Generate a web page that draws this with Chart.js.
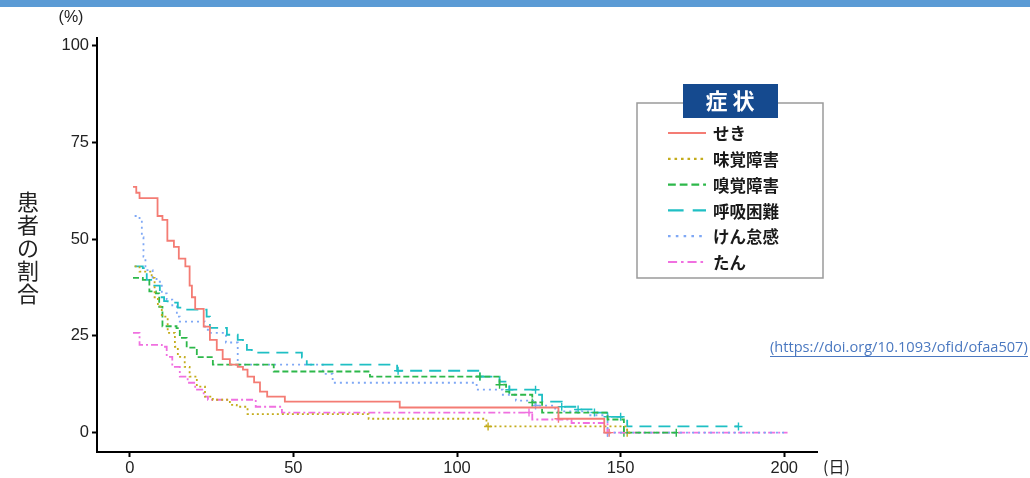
<!DOCTYPE html>
<html>
<head>
<meta charset="utf-8">
<script src="https://cdn.jsdelivr.net/npm/chart.js@4.4.1/dist/chart.umd.min.js"></script>
<style>
  html, body { margin: 0; padding: 0; background: #fff; }
  #wrap { width: 1030px; height: 478px; }
</style>
</head>
<body>
<div id="wrap"><canvas id="kmChart" width="1030" height="478"></canvas></div>
<script>
// symptom names (legend order)
const symptoms = ["せき", "味覚障害", "嗅覚障害", "呼吸困難", "けん怠感", "たん"];

// step curves: [day, % of patients]
const sekiCurve = [[1,63.5],[2,62],[3,60.6],[8.5,56],[10,55],[11.5,49.6],[13.5,48],[15,45],[17,43],[18.3,38],[19,35],[20,32],[22.6,27.4],[24.5,24],[26.6,21.4],[28.4,19],[30.6,17.6],[33,17],[34.6,16.3],[36,14.5],[38,13],[39.8,10.6],[42,9.3],[47.4,8],[82.5,6.5],[131,3.6],[145,0],[147,0]];
const mikakuCurve = [[1.5,43],[3,41.6],[6.7,40],[7.6,35],[8.6,32.6],[9.8,30],[11.6,25.8],[13.8,22.2],[14.7,19.6],[16.8,17],[18.3,14.5],[20.5,11.9],[23,9.3],[25.4,8.5],[30.6,7.2],[32.7,6.7],[36,4.8],[73,3.6],[109,1.6],[152,0],[153,0]];
const kyukakuCurve = [[1,40],[4,39.5],[6,36.5],[8,36],[9,32.5],[10,27.5],[14.3,27],[15.3,24.5],[17.4,22],[20.5,19.5],[25.4,17.6],[44,15.8],[73.4,14.5],[113,12.4],[115,10.6],[116,9.8],[123,7.8],[126,5.2],[146,3.4],[151,0],[167,0]];
const kokyuCurve = [[1.5,43],[4,42.5],[5.2,39.5],[7.5,38],[9.2,35],[10.5,34],[11.6,33.6],[14.7,32.3],[16.8,31.8],[23.5,30],[24.5,27.1],[29.7,25.3],[33,24],[34.6,23.3],[35.8,21.4],[37.3,20.7],[52.6,19.4],[54.1,17.6],[81.7,16],[107,14.5],[113,13.2],[116,11.1],[124.5,9.8],[126,8],[132,6.7],[136.7,6],[141.6,5.2],[145.9,4.1],[150.8,3.4],[152,1.6],[186,1.6]];
const kentaiCurve = [[1.5,56],[3,55],[3.7,50.5],[4.2,45.5],[4.8,42],[7,40],[8.2,39],[9.8,36],[11.3,34.4],[13,32.6],[14.4,30],[15.3,28.7],[23,26.6],[24.5,25.8],[29.4,23.3],[33,17.6],[59,15.2],[62,12.9],[106,11.1],[114,9.8],[118,8.3],[124,7],[130,5.5],[140,4.5],[146,0],[201,0]];
const tanCurve = [[1,25.8],[3,22.7],[9.8,22.2],[11.3,19.6],[13,17],[15.3,14.5],[17.7,12.9],[20,11.1],[22.6,9.3],[23.9,8.5],[38.5,6.7],[46.5,5.2],[123,3.4],[135,2.5],[146,0],[201,0]];

// censor marks (days)
const sekiCensor = [131, 146.5];
const mikakuCensor = [109.5, 152];
const kyukakuCensor = [107, 113, 123, 151, 167];
const kokyuCensor = [82, 107, 116, 124, 132, 137, 142, 146, 150, 186];
const kentaiCensor = [124, 146];
const tanCensor = [122, 146];

const xTicks = [0, 50, 100, 150, 200];
const yTicks = [0, 25, 50, 75, 100];

const curves = [sekiCurve, mikakuCurve, kyukakuCurve, kokyuCurve, kentaiCurve, tanCurve];
const censors = [sekiCensor, mikakuCensor, kyukakuCensor, kokyuCensor, kentaiCensor, tanCensor];
const colors = ["#F47C74", "#C4AC1C", "#2DB84A", "#1FBFC4", "#7FA8F5", "#F070E0"];
const dashes = [[], [2, 3], [6, 3], [12, 7], [2, 4], [7, 3, 2, 3]];

function stepAt(curve, t) {
    let v = curve[0][1];
    curve.forEach(([d, p]) => { if (d <= t) v = p; });
    return v;
}

const datasets = [];
curves.forEach((curve, i) => {
    datasets.push({
        label: symptoms[i],
        data: curve.map(([x, y]) => ({ x, y })),
        borderColor: colors[i],
        borderWidth: 1.8,
        borderDash: dashes[i],
        stepped: true,
        pointRadius: 0,
        fill: false,
    });
});
censors.forEach((days, i) => {
    datasets.push({
        label: "",
        data: days.map((d) => ({ x: d, y: stepAt(curves[i], d) })),
        showLine: false,
        pointStyle: "cross",
        pointRadius: 4,
        borderColor: colors[i],
        borderWidth: 1.4,
    });
});

const FONT = "'Liberation Sans', Arial, sans-serif";
const JP = "'Noto Sans CJK JP', sans-serif";

const decor = {
    id: "decor",
    afterDraw(chart) {
        const ctx = chart.ctx;
        const area = chart.chartArea;
        ctx.save();
        // top band
        ctx.fillStyle = "#5B9BD5";
        ctx.fillRect(0, 0, 1030, 7);

        // (%) label
        ctx.fillStyle = "#222";
        ctx.font = "16px " + FONT;
        ctx.textAlign = "center";
        ctx.textBaseline = "middle";
        ctx.fillText("(%)", 71, 18);

        // (日)
        ctx.font = "16px " + JP;
        ctx.textAlign = "left";
        ctx.fillText("(日)", area.right + 6, 467);

        // vertical y title
        ctx.font = "22px " + JP;
        ctx.textAlign = "center";
        const title = "患者の割合";
        for (let k = 0; k < title.length; k++) {
            ctx.fillText(title[k], 28, 202 + k * 23);
        }

        // legend box
        ctx.strokeStyle = "#9a9a9a";
        ctx.lineWidth = 1.5;
        ctx.strokeRect(637, 103, 186, 175);
        ctx.fillStyle = "#154A8F";
        ctx.fillRect(683, 84, 95, 34);
        ctx.fillStyle = "#fff";
        ctx.font = "bold 22px " + JP;
        ctx.fillText("症 状", 730, 101);

        ctx.textAlign = "left";
        ctx.font = "bold 16.5px " + JP;
        for (let i = 0; i < symptoms.length; i++) {
            const y = 133 + i * 25.8;
            ctx.strokeStyle = colors[i];
            ctx.lineWidth = 2.2;
            ctx.setLineDash(dashes[i].length ? dashes[i].map((v) => v * 1.3) : []);
            ctx.beginPath();
            ctx.moveTo(668, y);
            ctx.lineTo(706, y);
            ctx.stroke();
            ctx.setLineDash([]);
            ctx.fillStyle = "#1a1a1a";
            ctx.fillText(symptoms[i], 713, y + 1);
        }

        // source link
        const link = "(https://doi.org/10.1093/ofid/ofaa507)";
        ctx.font = "13px 'Open Sans', sans-serif";
        const w = ctx.measureText(link).width;
        const size = 13 * 258 / w;
        ctx.font = size.toFixed(2) + "px 'Open Sans', sans-serif";
        ctx.fillStyle = "#4A78C0";
        ctx.fillText(link, 770, 348);
        ctx.strokeStyle = "#4A78C0";
        ctx.lineWidth = 1;
        ctx.beginPath();
        ctx.moveTo(770, 356.5);
        ctx.lineTo(1028, 356.5);
        ctx.stroke();
        ctx.restore();
    },
};

const axisGrid = {
    display: true,
    drawOnChartArea: false,
    drawTicks: true,
    tickLength: 5,
    tickColor: "#000",
    tickWidth: 2,
};

new Chart(document.getElementById("kmChart"), {
    type: "line",
    data: { datasets },
    options: {
        responsive: false,
        animation: false,
        devicePixelRatio: 1,
        layout: { padding: { top: 38, right: 213, left: 0, bottom: 0 } },
        plugins: {
            legend: { display: false },
            tooltip: { enabled: false },
        },
        scales: {
            x: {
                type: "linear",
                min: -10,
                max: 210,
                afterBuildTicks: (s) => { s.ticks = xTicks.map((v) => ({ value: v })); },
                afterFit: (s) => { s.height = 26; },
                ticks: { color: "#222", font: { size: 16.5, family: FONT }, padding: 2, maxRotation: 0 },
                grid: axisGrid,
                border: { display: true, color: "#000", width: 2 },
            },
            y: {
                type: "linear",
                min: -5,
                max: 102,
                afterBuildTicks: (s) => { s.ticks = yTicks.map((v) => ({ value: v })); },
                afterFit: (s) => { s.width = 97; },
                ticks: { color: "#222", font: { size: 16.5, family: FONT }, padding: 3 },
                grid: axisGrid,
                border: { display: true, color: "#000", width: 2 },
            },
        },
    },
    plugins: [decor],
});
</script>
</body>
</html>
